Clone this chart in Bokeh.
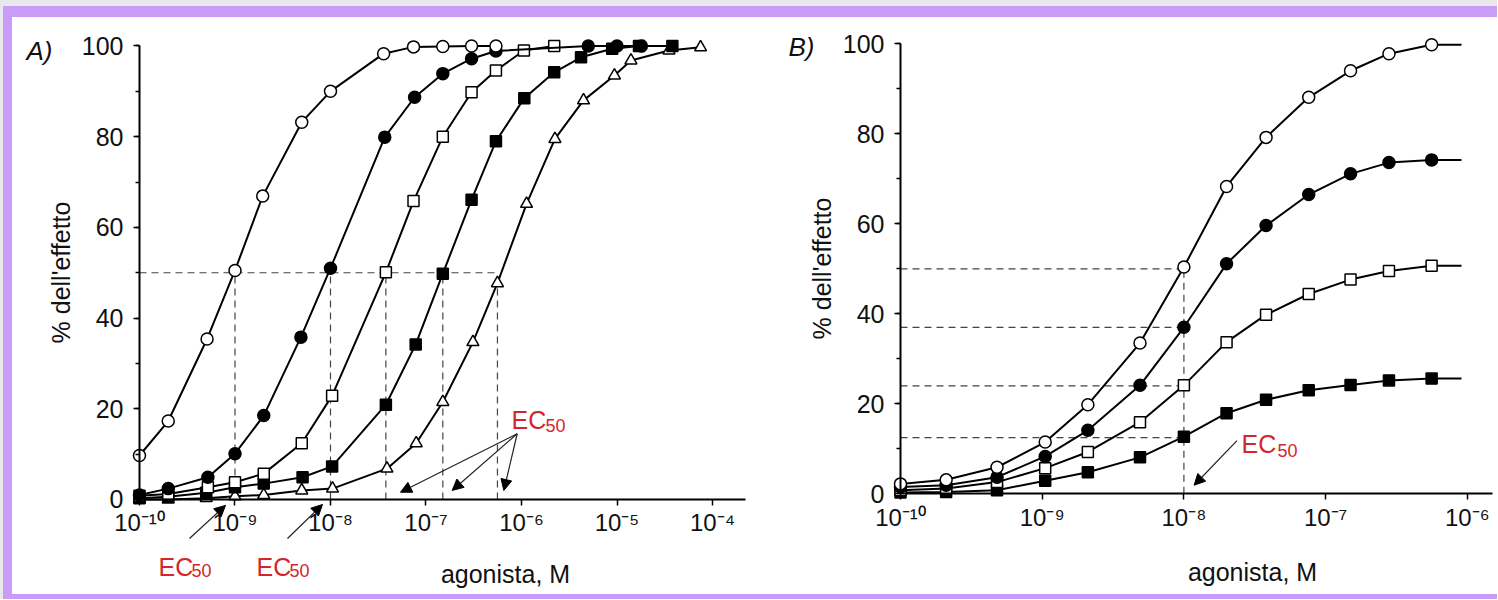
from bokeh.plotting import figure
from bokeh.layouts import row
from bokeh.models import (Range1d, FixedTicker, SingleIntervalTicker, CustomJSTickFormatter,
                          Label, Arrow, NormalHead)
from bokeh.embed import file_html
from bokeh.resources import INLINE

# ---------------- Panel A data (agonist concentration in M, % effect) ----------------
a_open_circle_x = [1.0e-10, 2.0e-10, 5.1e-10, 1.0e-9, 1.95e-9, 5.0e-9, 1.0e-8, 3.6e-8, 7.4e-8, 1.5e-7, 3.0e-7, 5.4e-7]
a_open_circle_y = [9.7, 17.3, 35.4, 50.5, 66.9, 83.2, 90.0, 98.3, 99.8, 99.9, 100.0, 100.0]

a_filled_circle_x = [1.0e-10, 2.0e-10, 5.2e-10, 1.0e-9, 2.0e-9, 4.9e-9, 1.0e-8, 3.7e-8, 7.6e-8, 1.5e-7, 3.0e-7, 5.4e-7, 5.0e-6, 1.0e-5, 1.8e-5]
a_filled_circle_y = [1.0, 2.4, 4.9, 10.1, 18.5, 35.8, 51.0, 79.9, 88.7, 93.9, 97.2, 98.9, 100.0, 100.0, 100.0]

a_open_square_x = [1.0e-10, 2.0e-10, 5.2e-10, 1.0e-9, 2.0e-9, 5.0e-9, 1.04e-8, 3.8e-8, 7.4e-8, 1.5e-7, 3.0e-7, 5.4e-7, 1.06e-6, 2.2e-6]
a_open_square_y = [0.8, 1.2, 2.7, 3.8, 5.7, 12.4, 22.9, 50.1, 65.8, 80.0, 89.8, 94.6, 99.0, 100.0]

a_filled_square_x = [1.0e-10, 2.0e-10, 5.0e-10, 1.0e-9, 2.0e-9, 5.1e-9, 1.04e-8, 3.8e-8, 7.8e-8, 1.5e-7, 3.0e-7, 5.4e-7, 1.07e-6, 2.2e-6, 4.2e-6, 8.9e-6, 1.7e-5, 3.8e-5]
a_filled_square_y = [0.3, 0.6, 1.5, 2.7, 3.5, 4.9, 7.3, 20.9, 34.2, 49.8, 66.1, 79.0, 88.5, 94.2, 97.5, 99.4, 100.0, 100.0]

a_triangle_x = [1.0e-10, 2.0e-10, 5.0e-10, 1.0e-9, 2.0e-9, 5.0e-9, 1.05e-8, 3.9e-8, 7.9e-8, 1.5e-7, 3.1e-7, 5.6e-7, 1.13e-6, 2.24e-6, 4.46e-6, 9.4e-6, 1.4e-5, 3.5e-5, 7.5e-5]
a_triangle_y = [0.0, 0.0, 0.3, 0.7, 1.0, 2.0, 2.4, 6.8, 12.4, 21.5, 34.7, 47.7, 65.2, 79.5, 88.0, 93.5, 96.8, 99.0, 99.7]

a_ec50_x = [1.0e-9, 1.0e-8, 3.8e-8, 1.5e-7, 5.6e-7]
a_half_effect = 50.0

# ---------------- Panel B data ----------------
b_x = [1.0e-10, 2.1e-10, 4.8e-10, 1.05e-9, 2.1e-9, 4.9e-9, 1.0e-8, 2.0e-8, 3.8e-8, 7.6e-8, 1.5e-7, 2.8e-7, 5.6e-7]
b_curve_end_x = 9.1e-7
b_open_circle_y = [2.2, 3.1, 5.9, 11.5, 19.8, 33.5, 50.4, 68.3, 79.2, 88.1, 94.0, 97.8, 99.8]
b_filled_circle_y = [1.5, 1.9, 3.7, 8.3, 14.1, 24.1, 37.0, 51.1, 59.6, 66.5, 71.1, 73.6, 74.2]
b_open_square_y = [0.8, 1.2, 2.6, 5.7, 9.3, 15.9, 24.1, 33.7, 39.8, 44.4, 47.6, 49.5, 50.7]
b_filled_square_y = [0.3, 0.4, 0.8, 2.9, 4.8, 8.1, 12.7, 17.9, 20.9, 23.0, 24.2, 25.2, 25.6]

b_ec50_x = 1.0e-8
b_ec50_levels = [50.0, 37.0, 24.0, 12.5]

a_ticks = [1e-10, 1e-9, 1e-8, 1e-7, 1e-6, 1e-5, 1e-4]
b_ticks = [1e-10, 1e-9, 1e-8, 1e-7, 1e-6]

FONT = "Liberation Sans"
RED = "#d3262c"
LAVENDER = "#c89cf7"
EDGE = "#e8e7ec"
FIG_H = 577

SUP = CustomJSTickFormatter(code="""
const s = {"-":"\u207B","0":"\u2070","1":"\u00B9","2":"\u00B2","3":"\u00B3","4":"\u2074",
           "5":"\u2075","6":"\u2076","7":"\u2077","8":"\u2078","9":"\u2079"};
const e = Math.round(Math.log10(tick));
return "10" + String(e).split("").map(c => s[c]).join("");
""")


def make_fig(width, xr, yr, xticks, xbound_end):
    p = figure(width=width, height=FIG_H, x_axis_type="log",
               x_range=Range1d(*xr), y_range=Range1d(*yr),
               min_border=0, output_backend="svg", toolbar_location=None,
               background_fill_color="white", border_fill_color="white",
               outline_line_color=None)
    p.grid.visible = False
    xa = p.xaxis[0]
    ya = p.yaxis[0]
    xa.fixed_location = 0
    xa.bounds = (1e-10, xbound_end)
    xa.ticker = FixedTicker(ticks=xticks, minor_ticks=[])
    xa.formatter = SUP
    ya.fixed_location = 1e-10
    ya.bounds = (0, 100)
    ya.ticker = SingleIntervalTicker(interval=20, num_minor_ticks=2)
    for ax in (xa, ya):
        ax.axis_line_width = 2
        ax.axis_line_color = "black"
        ax.major_tick_line_width = 1.5
        ax.major_tick_out = 6
        ax.major_tick_in = 0
        ax.minor_tick_line_width = 1.5
        ax.minor_tick_out = 4
        ax.minor_tick_in = 0
        ax.major_label_text_font = FONT
        ax.major_label_text_color = "#111111"
    xa.major_label_text_font_size = "24px"
    xa.major_label_standoff = 4
    ya.major_label_text_font_size = "25px"
    ya.major_label_standoff = 10
    ya.axis_label = "% dell'effetto"
    ya.axis_label_text_font = FONT
    ya.axis_label_text_font_size = "25px"
    ya.axis_label_text_font_style = "normal"
    ya.axis_label_text_color = "#111111"
    ya.axis_label_standoff = 4
    return p


def series(p, xs, ys, marker, filled, size, end_x=None):
    lx = list(xs)
    ly = list(ys)
    if end_x is not None:
        lx.append(end_x)
        ly.append(ys[-1])
    p.line(lx, ly, line_color="black", line_width=2)
    p.scatter(xs, ys, marker=marker, size=size, line_color="black", line_width=1.5,
              fill_color="black" if filled else "white")


def text(p, x, y, s, size, color="#111111", style="normal", align="left"):
    p.add_layout(Label(x=x, y=y, text=s, text_font=FONT, text_font_size=size,
                       text_color=color, text_font_style=style, text_align=align,
                       text_baseline="middle"))


def ec50(p, x_ec, x_sub, y_ec, y_sub):
    text(p, x_ec, y_ec, "EC", "25px", RED)
    text(p, x_sub, y_sub, "50", "18px", RED)


def arrow(p, xs, ys, xe, ye):
    p.add_layout(Arrow(end=NormalHead(size=11, fill_color="black", line_color="black", line_width=1),
                       x_start=xs, y_start=ys, x_end=xe, y_end=ye,
                       line_color="#222222", line_width=1.2))


# ---------------- Panel A ----------------
pa = make_fig(758, (10 ** -11.3298, 10 ** -3.3927), (-20.948, 106.28), a_ticks, 10 ** -3.654)

pa.segment(x0=[1e-10], y0=[a_half_effect], x1=[max(a_ec50_x)], y1=[a_half_effect],
           line_color="#444444", line_width=1.2, line_dash="7 5")
pa.segment(x0=a_ec50_x, y0=[0] * len(a_ec50_x), x1=a_ec50_x, y1=[a_half_effect] * len(a_ec50_x),
           line_color="#444444", line_width=1.2, line_dash="7 5")

series(pa, a_triangle_x, a_triangle_y, "triangle", False, 12)
series(pa, a_filled_square_x, a_filled_square_y, "square", True, 11)
series(pa, a_open_square_x, a_open_square_y, "square", False, 11)
series(pa, a_filled_circle_x, a_filled_circle_y, "circle", True, 12)
series(pa, a_open_circle_x, a_open_circle_y, "circle", False, 12)

text(pa, 10 ** -11.1832, 99.0, "A)", "26px", style="italic")
text(pa, 10 ** -6.1675, -16.4, "agonista, M", "25px", align="center")

ec50(pa, 10 ** -6.1047, 10 ** -5.7487, 17.6, 16.3)
ec50(pa, 10 ** -9.801, 10 ** -9.4555, -14.9, -15.7)
ec50(pa, 10 ** -8.7749, 10 ** -8.4293, -14.9, -15.7)

for tip_x, tip_y in [(10 ** -7.267, 1.6), (10 ** -6.726, 2.0), (10 ** -6.185, 2.0)]:
    arrow(pa, 10 ** -6.045, 14.5, tip_x, tip_y)
arrow(pa, 10 ** -9.4764, -8.6, 10 ** -9.0995, -1.3)
arrow(pa, 10 ** -8.4503, -8.6, 10 ** -8.0838, -1.1)

# ---------------- Panel B ----------------
pb = make_fig(727, (10 ** -10.9174, 10 ** -5.7869), (-22.378, 105.84), b_ticks, 10 ** -5.8222)

pb.segment(x0=[1e-10] * len(b_ec50_levels), y0=b_ec50_levels,
           x1=[b_ec50_x] * len(b_ec50_levels), y1=b_ec50_levels,
           line_color="#444444", line_width=1.2, line_dash="7 5")
pb.segment(x0=[b_ec50_x], y0=[0], x1=[b_ec50_x], y1=[max(b_ec50_levels)],
           line_color="#444444", line_width=1.2, line_dash="7 5")

series(pb, b_x, b_filled_square_y, "square", True, 11, b_curve_end_x)
series(pb, b_x, b_open_square_y, "square", False, 11, b_curve_end_x)
series(pb, b_x, b_filled_circle_y, "circle", True, 12, b_curve_end_x)
series(pb, b_x, b_open_circle_y, "circle", False, 12, b_curve_end_x)

text(pb, 10 ** -10.7904, 99.3, "B)", "26px", style="italic")
text(pb, 10 ** -7.5159, -17.4, "agonista, M", "25px", align="center")
ec50(pb, 10 ** -7.5935, 10 ** -7.3395, 11.0, 9.6)
arrow(pb, 10 ** -7.6253, 11.8, 10 ** -7.928, 1.9)

layout = row(pa, pb, spacing=0,
             styles={"border-top": f"6px solid {EDGE}",
                     "border-left": f"3px solid {EDGE}",
                     "padding": "11px 0px 5px 9px",
                     "background": f"linear-gradient(white, white) content-box, {LAVENDER}"})

open("out.html", "w").write(file_html(layout, INLINE))
